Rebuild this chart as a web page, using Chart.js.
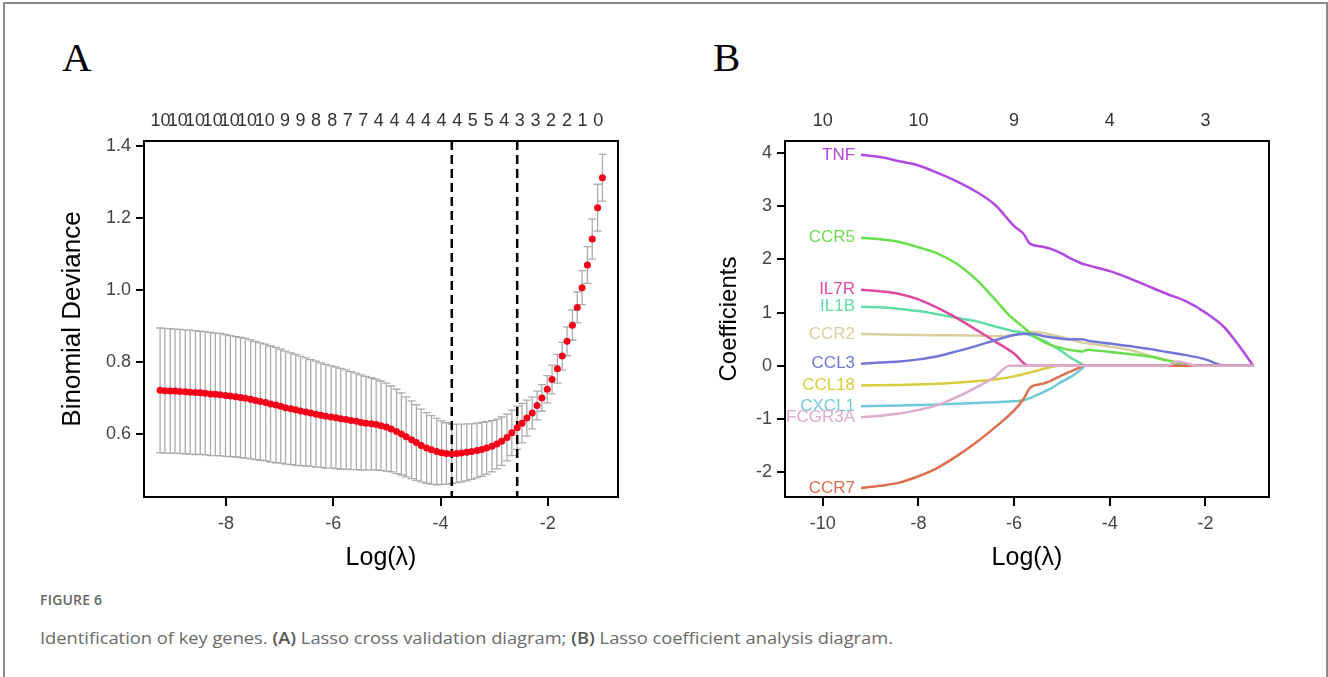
<!DOCTYPE html>
<html>
<head>
<meta charset="utf-8">
<script src="https://cdn.jsdelivr.net/npm/chart.js@4.4.1/dist/chart.umd.min.js"></script>
<style>
  html, body { margin: 0; padding: 0; background: #fff; }
  body { width: 1328px; height: 677px; position: relative; overflow: hidden; font-family: "Liberation Sans", Arial, sans-serif; }
  .frame { position: absolute; left: 3px; top: 2px; width: 1325px; height: 720px; border: 2px solid #8a8a8a; border-bottom: none; box-sizing: border-box; }
  .letter { position: absolute; font-family: "Liberation Serif", "DejaVu Serif", serif; font-size: 41px; line-height: 41px; color: #000; }
  .panel { position: absolute; }
  .fig-title { position: absolute; left: 40px; top: 590px; font-family: "Open Sans", sans-serif; font-size: 14px; font-weight: 600; color: #666; letter-spacing: 0.2px; }
  .fig-caption { position: absolute; left: 40px; top: 627px; font-family: "Open Sans", sans-serif; font-size: 15.5px; color: #6a6a6a; white-space: nowrap; transform: scaleX(1.18); transform-origin: 0 0; }
  .fig-caption b { font-weight: 600; color: #555; }
</style>
</head>
<body>
<div class="frame"></div>
<div class="letter" style="left:62px; top:37px;">A</div>
<div class="letter" style="left:713px; top:37px;">B</div>
<canvas id="chartA" class="panel" width="600" height="500" style="left:40px; top:90px;"></canvas>
<canvas id="chartB" class="panel" width="620" height="500" style="left:680px; top:90px;"></canvas>
<div class="fig-title">FIGURE 6</div>
<div class="fig-caption">Identification of key genes. <b>(A)</b> Lasso cross validation diagram; <b>(B)</b> Lasso coefficient analysis diagram.</div>

<script>
// ---- Panel A: cross validation ----
const lambdaA = [-9.23,-9.14,-9.04,-8.95,-8.86,-8.76,-8.67,-8.57,-8.48,-8.39,
  -8.29,-8.20,-8.11,-8.01,-7.92,-7.82,-7.73,-7.64,-7.54,-7.45,
  -7.36,-7.26,-7.17,-7.07,-6.98,-6.89,-6.79,-6.70,-6.61,-6.51,
  -6.42,-6.32,-6.23,-6.14,-6.04,-5.95,-5.86,-5.76,-5.67,-5.57,
  -5.48,-5.39,-5.29,-5.20,-5.11,-5.01,-4.92,-4.82,-4.73,-4.64,
  -4.54,-4.45,-4.36,-4.26,-4.17,-4.07,-3.98,-3.89,-3.79,-3.70,
  -3.61,-3.51,-3.42,-3.32,-3.23,-3.14,-3.04,-2.95,-2.86,-2.76,
  -2.67,-2.57,-2.48,-2.39,-2.29,-2.20,-2.11,-2.01,-1.92,-1.82,
  -1.73,-1.64,-1.54,-1.45,-1.36,-1.26,-1.17,-1.07,-0.98];
const cvmA = [0.721,0.720,0.719,0.719,0.718,0.717,0.716,0.715,0.714,0.713,
  0.711,0.710,0.709,0.707,0.705,0.703,0.701,0.699,0.696,0.693,
  0.690,0.687,0.683,0.680,0.677,0.673,0.670,0.667,0.664,0.661,
  0.658,0.655,0.652,0.649,0.647,0.645,0.642,0.640,0.637,0.635,
  0.632,0.630,0.628,0.626,0.623,0.619,0.614,0.607,0.600,0.592,
  0.584,0.576,0.568,0.561,0.556,0.551,0.548,0.546,0.545,0.546,
  0.547,0.549,0.551,0.554,0.557,0.561,0.566,0.572,0.580,0.590,
  0.603,0.617,0.630,0.644,0.658,0.679,0.700,0.724,0.751,0.781,
  0.816,0.857,0.902,0.951,1.006,1.069,1.141,1.228,1.311];
const cvsdA = [0.173,0.173,0.173,0.172,0.172,0.172,0.172,0.172,0.171,0.171,
  0.171,0.170,0.170,0.169,0.168,0.167,0.167,0.166,0.165,0.164,
  0.163,0.162,0.161,0.160,0.158,0.157,0.155,0.154,0.152,0.150,
  0.148,0.147,0.145,0.144,0.142,0.141,0.140,0.138,0.136,0.134,
  0.132,0.130,0.128,0.126,0.124,0.122,0.119,0.117,0.114,0.111,
  0.108,0.105,0.101,0.098,0.095,0.092,0.088,0.085,0.082,0.081,
  0.080,0.079,0.077,0.076,0.075,0.073,0.071,0.069,0.067,0.065,
  0.063,0.060,0.055,0.050,0.044,0.040,0.037,0.038,0.040,0.040,
  0.039,0.040,0.042,0.043,0.047,0.051,0.056,0.065,0.065];
const lambdaMinA = -3.79;
const lambda1seA = -2.57;
const nzLabelsA = ['10','10','10','10','10','10','10','9','9','8','8','7','7','4','4','4','4','4','4','5','5','4','3','3','2','2','1','0'];
const nzPosA = [-9.22,-8.90,-8.58,-8.25,-7.93,-7.61,-7.28,
  -6.90,-6.61,-6.32,-6.02,-5.73,-5.44,-5.15,-4.86,-4.56,-4.27,-3.98,-3.69,-3.40,-3.10,-2.81,-2.52,-2.23,-1.94,-1.64,-1.35,-1.06];
const xTicksA = [-8, -6, -4, -2];
const yTicksA = [0.6, 0.8, 1.0, 1.2, 1.4];

// ---- Panel B: coefficient paths ----
const genesB = ['TNF','CCR5','IL7R','IL1B','CCR2','CCL3','CCL18','CXCL1','FCGR3A','CCR7'];
const coefTNF = [[-9.2,3.97],[-8.8,3.93],[-8.4,3.85],[-8.0,3.77],[-7.6,3.63],[-7.2,3.47],[-6.8,3.28],[-6.4,3.03],[-6.0,2.63],[-5.8,2.48],[-5.67,2.30],[-5.4,2.24],[-5.2,2.19],[-5.0,2.11],[-4.8,2.01],[-4.6,1.93],[-4.45,1.89],[-4.2,1.83],[-4.0,1.78],[-3.6,1.65],[-3.2,1.50],[-2.8,1.35],[-2.4,1.21],[-2.0,1.00],[-1.6,0.72],[-1.4,0.50],[-1.2,0.26],[-1.0,0]];
const coefCCR5 = [[-9.2,2.41],[-8.8,2.38],[-8.4,2.33],[-8.0,2.23],[-7.6,2.11],[-7.2,1.92],[-6.8,1.63],[-6.4,1.25],[-6.1,0.95],[-6.0,0.87],[-5.8,0.72],[-5.6,0.57],[-5.4,0.46],[-5.2,0.38],[-5.0,0.33],[-4.8,0.29],[-4.57,0.27],[-4.47,0.30],[-4.2,0.28],[-4.0,0.26],[-3.6,0.22],[-3.2,0.18],[-2.8,0.10],[-2.6,0.06],[-2.3,0],[-1.0,0]];
const coefIL7R = [[-9.2,1.43],[-8.8,1.40],[-8.4,1.35],[-8.0,1.25],[-7.6,1.09],[-7.2,0.90],[-6.8,0.68],[-6.4,0.46],[-6.0,0.23],[-5.7,0],[-1.0,0]];
const coefIL1B = [[-9.2,1.11],[-8.8,1.10],[-8.4,1.07],[-8.0,1.03],[-7.6,0.97],[-7.2,0.90],[-6.8,0.84],[-6.4,0.74],[-6.0,0.65],[-5.8,0.62],[-5.6,0.55],[-5.4,0.48],[-5.2,0.38],[-5.0,0.27],[-4.8,0.14],[-4.6,0.04],[-4.52,0],[-1.0,0]];
const coefCCR2 = [[-9.2,0.60],[-8.4,0.585],[-7.6,0.575],[-6.8,0.57],[-6.4,0.555],[-6.0,0.58],[-5.8,0.62],[-5.6,0.635],[-5.4,0.62],[-5.2,0.58],[-5.0,0.54],[-4.8,0.49],[-4.6,0.44],[-4.4,0.41],[-4.2,0.39],[-4.0,0.36],[-3.6,0.30],[-3.2,0.20],[-2.8,0.11],[-2.6,0.06],[-2.4,0],[-1.0,0]];
const coefCCL3 = [[-9.2,0.04],[-8.8,0.06],[-8.4,0.08],[-8.0,0.12],[-7.6,0.18],[-7.2,0.27],[-6.8,0.37],[-6.4,0.48],[-6.0,0.58],[-5.8,0.60],[-5.6,0.60],[-5.4,0.56],[-5.2,0.53],[-5.0,0.51],[-4.8,0.50],[-4.6,0.50],[-4.4,0.46],[-4.2,0.44],[-4.0,0.42],[-3.6,0.37],[-3.2,0.32],[-2.8,0.26],[-2.4,0.20],[-2.0,0.12],[-1.6,0],[-1.0,0]];
const coefCCL18 = [[-9.2,-0.37],[-8.4,-0.36],[-7.6,-0.34],[-6.8,-0.29],[-6.4,-0.26],[-6.0,-0.20],[-5.6,-0.11],[-5.2,-0.02],[-5.05,0],[-1.0,0]];
const coefCXCL1 = [[-9.2,-0.76],[-8.4,-0.75],[-7.6,-0.73],[-6.8,-0.70],[-6.0,-0.67],[-5.8,-0.65],[-5.7,-0.62],[-5.4,-0.50],[-5.2,-0.41],[-5.0,-0.30],[-4.8,-0.20],[-4.6,-0.07],[-4.5,0],[-1.0,0]];
const coefFCGR3A = [[-9.2,-0.97],[-8.8,-0.94],[-8.4,-0.90],[-8.0,-0.83],[-7.6,-0.74],[-7.2,-0.59],[-6.8,-0.41],[-6.4,-0.21],[-6.1,0],[-2.8,0],[-2.58,0.08],[-2.4,0.05],[-2.2,0],[-1.0,0]];
const coefCCR7 = [[-9.2,-2.30],[-8.8,-2.26],[-8.4,-2.20],[-8.0,-2.08],[-7.6,-1.92],[-7.2,-1.70],[-6.8,-1.45],[-6.4,-1.16],[-6.0,-0.84],[-5.8,-0.62],[-5.65,-0.40],[-5.4,-0.34],[-5.2,-0.27],[-5.0,-0.18],[-4.8,-0.10],[-4.6,-0.02],[-4.55,0],[-1.0,0]];
const coefsB = [coefTNF, coefCCR5, coefIL7R, coefIL1B, coefCCR2, coefCCL3, coefCCL18, coefCXCL1, coefFCGR3A, coefCCR7];
const dfLabelsB = ['10','10','9','4','3'];
const dfPosB = [-10, -8, -6, -4, -2];
const xTicksB = [-10, -8, -6, -4, -2];
const yTicksB = [-2, -1, 0, 1, 2, 3, 4];

const geneColors = ['#b348e5','#6adf4c','#e0489e','#62dca8','#d8cf9c','#7276d8','#d9cc3e','#70c9d7','#ddabcc','#dc6f4e'];
const geneOrder = [5, 6, 4, 7, 8, 3, 9, 2, 0, 1];

const fontFamily = '"Liberation Sans", Arial, sans-serif';
const tickFont = { family: fontFamily, size: 18 };

const boxPlugin = {
  id: 'box',
  afterDraw(chart) {
    const { ctx, chartArea: a } = chart;
    ctx.save();
    ctx.strokeStyle = '#000';
    ctx.lineWidth = 2;
    ctx.strokeRect(a.left, a.top, a.right - a.left, a.bottom - a.top);
    ctx.restore();
  }
};

const cvPlugin = {
  id: 'cvExtras',
  beforeDatasetsDraw(chart) {
    const { ctx, chartArea: a, scales: { x, y } } = chart;
    ctx.save();
    ctx.beginPath();
    ctx.rect(a.left, a.top, a.right - a.left, a.bottom - a.top);
    ctx.clip();
    ctx.strokeStyle = '#ababab';
    ctx.lineWidth = 1.3;
    ctx.beginPath();
    lambdaA.forEach((l, i) => {
      const px = x.getPixelForValue(l);
      const hi = y.getPixelForValue(cvmA[i] + cvsdA[i]);
      const lo = y.getPixelForValue(cvmA[i] - cvsdA[i]);
      ctx.moveTo(px, hi); ctx.lineTo(px, lo);
      ctx.moveTo(px - 4, hi); ctx.lineTo(px + 4, hi);
      ctx.moveTo(px - 4, lo); ctx.lineTo(px + 4, lo);
    });
    ctx.stroke();
    ctx.strokeStyle = '#000';
    ctx.lineWidth = 2.5;
    ctx.setLineDash([9, 5]);
    [lambdaMinA, lambda1seA].forEach(l => {
      const px = x.getPixelForValue(l);
      ctx.beginPath();
      ctx.moveTo(px, a.top);
      ctx.lineTo(px, a.bottom);
      ctx.stroke();
    });
    ctx.restore();
  }
};

const geneLabelPlugin = {
  id: 'geneLabels',
  afterDatasetsDraw(chart) {
    const { ctx, scales: { x, y } } = chart;
    ctx.save();
    ctx.font = '17px ' + fontFamily;
    ctx.textAlign = 'right';
    ctx.textBaseline = 'middle';
    genesB.forEach((g, i) => {
      const p = coefsB[i][0];
      ctx.fillStyle = geneColors[i];
      ctx.fillText(g, x.getPixelForValue(p[0]) - 6, y.getPixelForValue(p[1]));
    });
    ctx.restore();
  }
};

function fixedTicks(list) {
  return s => { s.ticks = list.map(v => ({ value: v })); };
}

function axisX(min, max, ticks) {
  return {
    type: 'linear', position: 'bottom', min, max,
    afterBuildTicks: fixedTicks(ticks),
    afterFit: s => { s.height = 93; },
    grid: { drawOnChartArea: false, drawTicks: true, tickLength: 9, color: '#000', lineWidth: 2 },
    border: { display: false },
    ticks: { color: '#444', font: tickFont, padding: 7, maxRotation: 0, autoSkip: false },
    title: { display: true, text: 'Log(λ)', color: '#000', font: { family: fontFamily, size: 25 }, padding: { top: 0, bottom: 17 } }
  };
}

function axisTop(min, max, pos, labels) {
  return {
    type: 'linear', position: 'top', min, max,
    afterBuildTicks: fixedTicks(pos),
    afterFit: s => { s.height = 51; },
    grid: { display: false, drawTicks: false },
    border: { display: false },
    ticks: { color: '#333', font: tickFont, padding: 9, maxRotation: 0, autoSkip: false,
      callback: (v, i) => labels[i] }
  };
}

function axisY(min, max, ticks, title, titleSize, width, titlePad, fmt) {
  return {
    type: 'linear', min, max,
    afterBuildTicks: fixedTicks(ticks),
    afterFit: s => { s.width = width; },
    grid: { drawOnChartArea: false, drawTicks: true, tickLength: 8, color: '#000', lineWidth: 2 },
    border: { display: false },
    ticks: { color: '#444', font: tickFont, padding: 5, callback: fmt },
    title: { display: true, text: title, color: '#000', font: { family: fontFamily, size: titleSize }, padding: { top: titlePad, bottom: 0 } }
  };
}

new Chart(document.getElementById('chartA'), {
  type: 'scatter',
  data: {
    datasets: [{
      data: lambdaA.map((l, i) => ({ x: l, y: cvmA[i] })),
      pointRadius: 3.5,
      pointBackgroundColor: 'rgb(245,0,25)',
      pointBorderWidth: 0
    }]
  },
  options: {
    responsive: false, animation: false, events: [],
    layout: { padding: { left: 0, right: 22, top: 0, bottom: 0 } },
    plugins: { legend: { display: false }, tooltip: { enabled: false } },
    scales: {
      x: axisX(-9.53, -0.69, xTicksA),
      x2: axisTop(-9.53, -0.69, nzPosA, nzLabelsA),
      y: axisY(0.425, 1.413, yTicksA, 'Binomial Deviance', 26, 104, 17, v => v.toFixed(1))
    }
  },
  plugins: [cvPlugin, boxPlugin]
});

new Chart(document.getElementById('chartB'), {
  type: 'line',
  data: {
    datasets: genesB.map((g, i) => ({
      label: g,
      data: coefsB[i].map(p => ({ x: p[0], y: p[1] })),
      borderColor: geneColors[i],
      borderWidth: 2.5,
      pointRadius: 0,
      cubicInterpolationMode: 'monotone',
      order: geneOrder[i]
    }))
  },
  options: {
    responsive: false, animation: false, events: [],
    layout: { padding: { left: 0, right: 31, top: 0, bottom: 0 } },
    plugins: { legend: { display: false }, tooltip: { enabled: false } },
    scales: {
      x: axisX(-10.79, -0.67, xTicksB),
      x2: axisTop(-10.79, -0.67, dfPosB, dfLabelsB),
      y: axisY(-2.47, 4.23, yTicksB, 'Coefficients', 24, 105, 35, v => String(v))
    }
  },
  plugins: [geneLabelPlugin, boxPlugin]
});
</script>
</body>
</html>
